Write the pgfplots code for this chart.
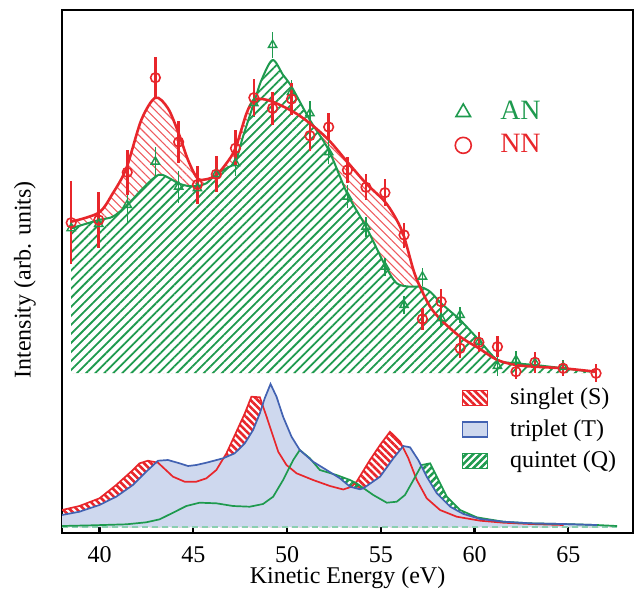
\documentclass[border=0pt,12pt]{standalone}
\usepackage{fontspec}
\setmainfont{Liberation Serif}
\usepackage{pgfplots}
\pgfplotsset{compat=1.18}
\usepackage{pgfplotstable}
\usepgfplotslibrary{fillbetween}
\usetikzlibrary{patterns.meta}

\definecolor{cR}{HTML}{E8262B}
\definecolor{cRl}{HTML}{EE5A5E}
\definecolor{cG}{HTML}{1E9A4E}
\definecolor{cB}{HTML}{4262B2}
\definecolor{cBf}{HTML}{CED8EE}
\definecolor{cBase}{HTML}{8ACFB0}

% NN data points (x, y, error)
\pgfplotstableread{
x y e
38.49 310.3 41.7
39.96 313 27.5
41.48 360.7 22.5
42.98 455.3 21
44.22 391 21
45.22 348.3 19
46.23 358.7 18
47.25 384.7 18
48.23 435.3 18.5
49.23 424.7 16.5
50.24 434 16
51.22 397.3 15
52.22 406 13.5
53.22 363 13
54.21 345.7 13
55.22 340.3 13.5
56.24 298 12.5
57.22 214 11
58.22 231.3 12.5
59.23 184.7 10
60.23 190.7 10
61.22 186.3 10.5
62.21 161.3 7
63.22 170.7 10.5
64.72 164.7 7.5
66.48 159.7 9
}\NNdata

% AN data points
\pgfplotstableread{
x y e
38.49 304.7 8
39.96 309 8
41.48 328 17.5
42.98 371.3 15
44.22 346.3 16
45.22 344.7 12
46.23 359 12
47.25 369.7 13
48.23 429.7 14
49.23 488 13
50.24 441 12
51.22 419.7 12.5
52.22 380.7 12
53.22 336.3 11.7
54.21 306.3 10
55.22 266.3 9
56.24 228 9
57.22 256.3 9
58.22 214.7 9
59.23 218 8
60.23 191 8
61.22 167 10
62.21 173 9
63.22 170 8
64.72 166 7
}\ANdata

% NN fit (upper red curve)
\pgfplotstableread{
x y
38.49 311.3
39.96 320.3
40.71 339.7
41.43 364.7
42.23 413
42.98 435.3
43.65 424.7
44.22 399.7
44.72 373
45.22 354.7
45.70 353.7
46.23 358
46.77 369.7
47.25 384.7
47.84 419.7
48.23 433
48.64 434
49.23 431.3
50.33 421.3
51.22 409.7
52.22 393
53.22 371
54.21 349.7
55.22 331.3
55.85 313
56.24 296.3
56.74 263
57.09 246.3
57.63 226.3
58.22 213
59.23 196.3
60.23 184.7
61.22 173
62.21 168
63.22 166.3
64.72 164.7
66.48 161.3
}\NNfit

% AN fit (upper green curve)
\pgfplotstableread{
x y
38.49 304.7
39.96 313
40.71 316.3
41.48 328
42.23 343
42.98 356.3
43.38 358
44.22 349.7
44.72 347
45.22 347
45.70 349.7
46.23 358.7
46.77 364.7
47.25 371.3
47.65 396.3
48.23 429.7
48.64 453
49.23 473
49.79 458
50.24 446.3
51.22 413
52.22 383
53.22 339
54.21 306.3
55.22 268
55.85 249.7
56.56 246.3
57.09 246.3
57.63 241.3
58.22 229.7
59.23 213
60.23 193
61.22 173
62.21 169.7
63.22 168
64.75 164.7
66.18 161.3
}\ANfit

% singlet
\pgfplotstableread{
x y
38.0 23
38.93 27
40.0 34.7
40.89 48
41.78 63
42.14 69.7
42.58 72.3
43.12 70.3
43.92 56.3
44.54 51.3
45.16 51.3
45.70 54.7
46.23 63
46.77 79.7
47.30 101.3
47.75 119.7
48.10 136.3
48.55 135.7
48.91 116.3
49.53 81.3
49.97 68
50.51 59.7
51.39 53
52.29 47
53.0 43.5
53.44 46.3
53.71 51.3
54.42 73
54.96 88
55.49 101.3
56.03 91.3
56.47 74.7
56.92 53
57.45 34.7
58.16 23
59.05 16.3
60.30 12.3
61.54 10.3
62.97 9
64.75 8
}\Sdata

% triplet
\pgfplotstableread{
x y
38.0 18
38.93 21.3
40.0 28
40.89 36.3
41.78 48
42.49 61.3
43.12 72.3
43.65 73
44.27 69.7
44.72 67
45.16 68
45.70 70.3
46.59 74.7
47.21 79.7
47.75 89.7
48.19 103
48.55 119.7
48.81 134.7
49.12 149
49.44 136.3
49.79 116.3
50.24 96.3
50.68 83
51.39 71.3
52.11 63
52.82 54.7
53.36 46.3
53.89 43.7
54.07 44.7
54.96 56.3
55.67 74.7
56.20 87
56.56 85.7
57.0 73
57.45 56.3
57.99 39.7
58.70 26.3
59.41 19
60.30 14
61.54 11.3
62.97 9.7
64.75 9
66.53 8
}\Tdata

% quintet
\pgfplotstableread{
x y
38.0 7
39.64 7.7
41.43 8.7
42.49 10.7
43.21 13.7
43.92 20.3
44.63 27
45.34 30.3
46.23 29.7
47.12 27
48.01 26.3
48.72 29
49.26 36.3
49.79 53
50.33 73
50.68 83
51.22 74.7
51.75 63
52.64 58
53.36 53
53.71 49.7
54.6 38
55.32 30.3
55.85 31.3
56.29 38
56.74 53
57.18 68
57.63 69.7
57.99 56.3
58.52 36.3
59.23 23
60.12 15.7
61.54 11.3
62.97 9.7
64.75 9
66.53 8
67.6 7
}\Qdata

\pgfplotsset{
  boxlegend/.style={legend image code/.code={\draw[##1] (0pt,-3.75pt) rectangle (12.5pt,3.75pt);}},
}

\begin{document}
\begin{tikzpicture}
\begin{axis}[
  scale only axis, width=285.5pt, height=261.5pt,
  xmin=38, xmax=68.45, ymin=0, ymax=523,
  axis line style={line width=1.3pt},
  xtick={40,45,...,65}, ytick=\empty,
  xtick pos=bottom, tick align=inside, major tick length=3pt,
  every tick/.style={black, line width=1.1pt},
  /pgf/number format/assume math mode=true,
  xticklabel style={yshift=-2.5pt},
  xlabel={Kinetic Energy (eV)},
  xlabel style={at={(axis description cs:0.5,-0.086)}, anchor=center},
  ylabel={Intensity (arb. units)},
  ylabel style={at={(axis description cs:-0.065,0.484)}, anchor=center},
  legend style={at={(axis description cs:0.699,0.282)}, anchor=north west,
    draw=none, fill=none, inner sep=0pt, row sep=3.6pt,
    nodes={inner sep=1pt},
    /tikz/every odd column/.append style={column sep=10pt}},
  legend cell align=left,
]
% ---------- upper panel ----------
\addplot[draw=none, name path=baseU, forget plot] coordinates {(38.49,160) (66.48,160)};
\addplot[draw=none, name path=redU, smooth, forget plot] table {\NNfit};
\addplot[draw=none, name path=greenU, smooth, forget plot] table {\ANfit};
\addplot[draw=none, pattern={Lines[angle=-45,distance=2.9pt,line width=0.55pt]}, pattern color=cRl, forget plot] fill between[of=redU and baseU];
\addplot[draw=none, fill=white, forget plot] fill between[of=greenU and baseU];
\addplot[draw=none, pattern={Lines[angle=45,distance=3.2pt,line width=0.9pt]}, pattern color=cG, forget plot] fill between[of=greenU and baseU];
\addplot[cG, line width=1pt, smooth, forget plot] table {\ANfit};
\addplot[cR, line width=1.3pt, smooth, forget plot] table {\NNfit};
\addplot[forget plot, only marks, cG, mark=triangle, mark size=2.4pt,
  mark options={fill=white, line width=0.7pt},
  error bars/.cd, y dir=both, y explicit,
  error bar style={line width=0.7pt, cG}, error mark=none]
  table[x=x, y=y, y error=e] {\ANdata};
\addplot[forget plot, only marks, cR, mark=o, mark size=2.4pt,
  mark options={fill=white, line width=0.8pt},
  error bars/.cd, y dir=both, y explicit,
  error bar style={line width=1.3pt, cR}, error mark=none]
  table[x=x, y=y, y error=e] {\NNdata};
% ---------- lower panel ----------
\addplot[draw=none, name path=baseL, forget plot] coordinates {(38,6) (67.6,6)};
\addplot[draw=none, name path=sL, forget plot] table {\Sdata};
\addplot[draw=none, name path=tL, forget plot] table {\Tdata};
\addplot[draw=none, name path=qL, forget plot] table {\Qdata};
\addplot[draw=none, pattern={Lines[angle=-45,distance=2.5pt,line width=1.3pt]}, pattern color=cR, forget plot] fill between[of=sL and baseL];
\addplot[draw=none, pattern={Lines[angle=45,distance=2.5pt,line width=1.3pt]}, pattern color=cG, forget plot] fill between[of=qL and baseL];
\addplot[draw=none, fill=cBf, forget plot] fill between[of=tL and baseL];
\addplot[cBase, dashed, dash pattern=on 3pt off 2pt, line width=0.6pt, forget plot] coordinates {(38,6) (67.6,6)};
\addplot[cR, line width=0.85pt, forget plot] table {\Sdata};
\addplot[cG, line width=0.85pt, forget plot] table {\Qdata};
\addplot[cB, line width=0.85pt, forget plot] table {\Tdata};
% legend
\addlegendimage{boxlegend, draw=cR, line width=0.8pt, pattern={Lines[angle=-45,distance=2.5pt,line width=1.3pt]}, pattern color=cR}
\addlegendentry{singlet (S)}
\addlegendimage{boxlegend, draw=cB, line width=0.8pt, fill=cBf}
\addlegendentry{triplet (T)}
\addlegendimage{boxlegend, draw=cG, line width=0.8pt, pattern={Lines[angle=45,distance=2.5pt,line width=1.3pt]}, pattern color=cG}
\addlegendentry{quintet (Q)}
\end{axis}
\begin{axis}[
  scale only axis, width=285.5pt, height=261.5pt,
  xmin=38, xmax=68.45, ymin=0, ymax=523,
  hide axis,
  legend style={at={(axis description cs:0.688,0.83)}, anchor=north west,
    draw=none, fill=none, inner sep=0pt, row sep=3.5pt,
    font=\fontsize{14}{16}\selectfont,
    nodes={inner sep=1pt},
    /tikz/every odd column/.append style={column sep=13.5pt}},
  legend cell align=left,
]
\addlegendimage{only marks, mark=triangle, mark size=4.2pt, cG, mark options={line width=0.8pt}}
\addlegendentry{\textcolor{cG}{AN}}
\addlegendimage{only marks, mark=o, mark size=4pt, cR, mark options={line width=0.8pt}}
\addlegendentry{\textcolor{cR}{NN}}
\end{axis}
\pgfresetboundingbox
\useasboundingbox (-31pt,-31pt) rectangle (289pt,266.5pt);
\end{tikzpicture}
\end{document}
